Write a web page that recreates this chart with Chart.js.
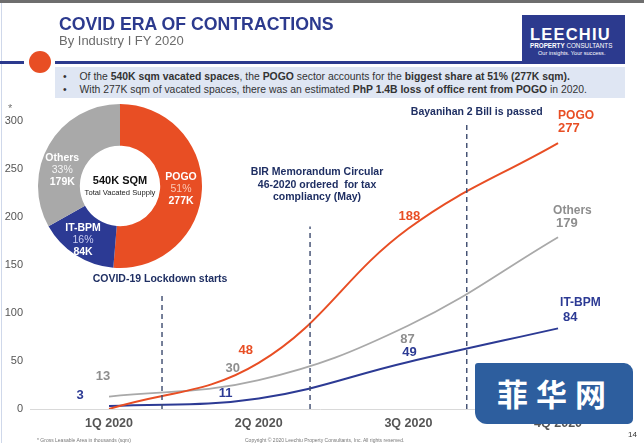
<!DOCTYPE html>
<html>
<head>
<meta charset="utf-8">
<script src="https://cdn.jsdelivr.net/npm/chart.js@4/dist/chart.umd.min.js"></script>
<style>
  body { margin: 0; background: #fff; font-family: "Liberation Sans", Arial, sans-serif; }
  #slide { position: relative; width: 644px; height: 443px; overflow: hidden; background: #fff; }
  #slide div { position: absolute; white-space: nowrap; }
  #lineChart { position: absolute; left: 0; top: 0; }
  #donut { position: absolute; left: 38px; top: 104px; }
  .topbar { left: 0; top: 0; width: 644px; height: 3px; background: #6e6e6e; }
  .leftbar { left: 1px; top: 3px; width: 1px; height: 440px; background: #cfd8ea; }
  .title { left: 59px; top: 16px; font-size: 17.7px; line-height: 17.7px; font-weight: bold; color: #2c3a8e; }
  .subtitle { left: 59px; top: 34px; font-size: 13px; line-height: 13px; color: #6b6b6b; }
  .stub { left: 0; top: 61px; width: 24px; height: 3px; background: #2c3a8e; }
  .dot { left: 29px; top: 51px; width: 22px; height: 22px; border-radius: 50%; background: #e84e24; }
  .rule { left: 55px; top: 61px; width: 570px; height: 3px; background: #2c3a8e; }
  .logo { left: 522px; top: 15px; width: 103px; height: 48px; background: #2c3a8e; }
  .logo .brand { left: 8px; top: 11px; font-size: 16.5px; line-height: 17px; font-weight: bold; color: #fff; letter-spacing: 1.2px; }
  .logo .sub { left: 8px; top: 27px; font-size: 6.3px; line-height: 7px; color: #fff; }
  .logo .tag { left: 16px; top: 35px; font-size: 5.6px; line-height: 7px; color: #fff; }
  .bullets { left: 55px; top: 67px; width: 570px; height: 31px; background: #dfe6f3; }
  .bullets div { left: 8px; font-size: 10.4px; line-height: 12px; color: #333; }
  .bullets span.b { margin-right: 10px; }
  .star { left: 8px; top: 102px; font-size: 11px; color: #777; }
  .center1 { left: 70px; top: 174px; width: 100px; text-align: center; font-size: 11px; line-height: 13px; font-weight: bold; color: #111; }
  .center2 { left: 70px; top: 188px; width: 100px; text-align: center; font-size: 7.6px; line-height: 9px; color: #222; }
  .stamp { left: 475px; top: 363px; width: 158px; height: 61px; background: #2d5e9e; border-radius: 3px 9px 5px 12px; }
  .stamp span { position: absolute; left: 22px; top: 12px; font-family: "Noto Sans CJK SC", sans-serif; font-weight: bold; font-size: 31px; line-height: 36px; color: #fff; letter-spacing: 8px; }
  .foot { top: 437px; font-size: 5px; line-height: 6px; color: #777; }
  .page { left: 628px; top: 430px; font-size: 8px; color: #333; }
</style>
</head>
<body>
<div id="slide">
  <canvas id="lineChart" width="644" height="443"></canvas>
  <div class="topbar"></div>
  <div class="leftbar"></div>
  <div class="title">COVID ERA OF CONTRACTIONS</div>
  <div class="subtitle">By Industry I FY 2020</div>
  <div class="stub"></div>
  <div class="rule"></div>
  <div class="dot"></div>
  <div class="logo">
    <div class="brand">LEECHIU</div>
    <div class="sub"><b>PROPERTY</b> CONSULTANTS</div>
    <div class="tag">Our insights. Your success.</div>
  </div>
  <div class="bullets">
    <div style="top:4px"><span class="b">•</span> Of the <b>540K sqm vacated spaces</b>, the <b>POGO</b> sector accounts for the <b>biggest share at 51% (277K sqm).</b></div>
    <div style="top:17px"><span class="b">•</span> With 277K sqm of vacated spaces, there was an estimated <b>PhP 1.4B loss of office rent from POGO</b> in 2020.</div>
  </div>
  <div class="star">*</div>
  <canvas id="donut" width="164" height="164"></canvas>
  <div class="center1">540K SQM</div>
  <div class="center2">Total Vacated Supply</div>
  <div class="stamp"><span>菲华网</span></div>
  <div class="foot" style="left:37px">* Gross Leasable Area in thousands (sqm)</div>
  <div class="foot" style="left:245px">Copyright © 2020 Leechiu Property Consultants, Inc. All rights reserved.</div>
  <div class="page">14</div>
</div>
<script>
// Área desocupada acumulada (mil sqm) por trimestre
const quarters = ['1Q 2020', '2Q 2020', '3Q 2020', '4Q 2020'];
const pogo = [0, 48, 188, 277];
const others = [13, 30, 87, 179];
const itBpm = [3, 11, 49, 84];
const seriesNames = ['POGO', 'Others', 'IT-BPM'];

// Eventos: posição no eixo dos trimestres e topo da linha tracejada
const eventLabels = [
  ['COVID-19 Lockdown starts'],
  ['BIR Memorandum Circular', '46-2020 ordered  for tax', 'compliancy (May)'],
  ['Bayanihan 2 Bill is passed'],
];
const eventAt = [1.354, 2.343, 3.39];
const eventTop = [122, 190, 296];

// Donut: participação no total (valores finais de cada série)
const shareNames = ['POGO', 'IT-BPM', 'Others'];
const shareValues = [pogo[3], itBpm[3], others[3]];

// Estilos
const lineColors = ['#e84e24', '#a9a9a9', '#2c3a94'];
const textColors = ['#e84e24', '#8e8e8e', '#2c3a94'];
const lineWidths = [2, 1.8, 2];
const labelOffsets = [
  [null, [-13, -12], [1, -12], null],
  [[-6, -20], [-26, -12], [-1, 14], null],
  [[-29, -11], [-33, -5], [1, -10], null],
];
const endOffsets = [[0, -27, 0, -15], [-5, -26, -2, -14], [2, -26, 5, -11]];
const eventOffsets = [[-2, -13], [7, -54], [10, -13]];

const seriesData = [pogo, others, itBpm];

const valueLabels = {
  id: 'valueLabels',
  afterDatasetsDraw(chart) {
    const ctx = chart.ctx;
    const xs = chart.scales.x, ys = chart.scales.y;
    ctx.save();
    ctx.textBaseline = 'middle';
    seriesData.forEach((vals, i) => {
      ctx.fillStyle = textColors[i];
      vals.forEach((v, j) => {
        const off = labelOffsets[i][j];
        if (!off) return;
        ctx.font = 'bold 13px "Liberation Sans", Arial, sans-serif';
        ctx.textAlign = 'center';
        ctx.fillText(String(v), xs.getPixelForValue(j + 1) + off[0], ys.getPixelForValue(v) + off[1]);
      });
      const last = vals.length - 1;
      const px = xs.getPixelForValue(last + 1), py = ys.getPixelForValue(vals[last]);
      const e = endOffsets[i];
      ctx.textAlign = 'left';
      ctx.font = 'bold 12px "Liberation Sans", Arial, sans-serif';
      ctx.fillText(seriesNames[i], px + e[0], py + e[1]);
      ctx.font = 'bold 13px "Liberation Sans", Arial, sans-serif';
      ctx.fillText(String(vals[last]), px + e[2], py + e[3]);
    });
    // Rótulos dos eventos
    ctx.fillStyle = '#1f2f63';
    ctx.textAlign = 'center';
    ctx.font = 'bold 10.5px "Liberation Sans", Arial, sans-serif';
    eventLabels.forEach((lines, k) => {
      const px = xs.getPixelForValue(eventAt[k]) + eventOffsets[k][0];
      const py = ys.getPixelForValue(eventTop[k]) + eventOffsets[k][1];
      lines.forEach((t, n) => ctx.fillText(t, px, py + n * 12.5));
    });
    ctx.restore();
  }
};

const lineSets = seriesData.map((vals, i) => ({
  label: seriesNames[i],
  data: vals.map((v, j) => ({ x: j + 1, y: v })),
  borderColor: lineColors[i],
  borderWidth: lineWidths[i],
  pointRadius: 0,
  tension: 0.4,
  fill: false,
}));
const eventSets = eventAt.map((x, k) => ({
  label: 'event' + k,
  data: [{ x: x, y: 0 }, { x: x, y: eventTop[k] }],
  borderColor: '#3c4a6e',
  borderWidth: 1.4,
  borderDash: [5, 4],
  pointRadius: 0,
  tension: 0,
}));

new Chart(document.getElementById('lineChart'), {
  type: 'line',
  data: { datasets: [...eventSets, ...lineSets] },
  options: {
    responsive: false,
    animation: false,
    layout: { padding: { left: 0, right: 34, top: 121, bottom: 0 } },
    scales: {
      x: {
        type: 'linear',
        min: 0.472,
        max: 4.347,
        afterBuildTicks: (s) => { s.ticks = quarters.map((q, i) => ({ value: i + 1 })); },
        afterFit: (s) => { s.height = 34; },
        grid: { display: false, drawTicks: false },
        border: { display: true, color: '#d9d9d9', width: 1 },
        ticks: {
          padding: 7,
          maxRotation: 0,
          color: '#555',
          font: { family: '"Liberation Sans", Arial, sans-serif', size: 12.5, weight: 'bold' },
          callback: (v) => quarters[v - 1],
        },
      },
      y: {
        min: 0,
        max: 300,
        afterFit: (s) => { s.width = 30; },
        grid: { display: false, drawTicks: false },
        border: { display: false },
        ticks: {
          stepSize: 50,
          padding: 7,
          color: '#555',
          font: { family: '"Liberation Sans", Arial, sans-serif', size: 11 },
        },
      },
    },
    plugins: { legend: { display: false }, tooltip: { enabled: false } },
  },
  plugins: [valueLabels],
});

// Donut
const shareColors = ['#e84e24', '#2c3a94', '#a9a9a9'];
const pctColors = ['#fbc9b6', '#c9cdf2', '#f4f4f4'];
const sliceOffsets = [[0, 1], [-4, 3], [-5, 15]];
const total = shareValues.reduce((a, b) => a + b, 0);

const donutLabels = {
  id: 'donutLabels',
  afterDatasetsDraw(chart) {
    const ctx = chart.ctx;
    const arcs = chart.getDatasetMeta(0).data;
    ctx.save();
    ctx.textAlign = 'center';
    ctx.textBaseline = 'middle';
    arcs.forEach((arc, i) => {
      const p = arc.tooltipPosition();
      const x = p.x + sliceOffsets[i][0], y = p.y + sliceOffsets[i][1];
      ctx.fillStyle = '#fff';
      ctx.font = 'bold 10.5px "Liberation Sans", Arial, sans-serif';
      ctx.fillText(shareNames[i], x, y - 12);
      ctx.fillStyle = pctColors[i];
      ctx.font = '10.5px "Liberation Sans", Arial, sans-serif';
      ctx.fillText(Math.round(shareValues[i] / total * 100) + '%', x, y);
      ctx.fillStyle = '#fff';
      ctx.font = 'bold 10.5px "Liberation Sans", Arial, sans-serif';
      ctx.fillText(shareValues[i] + 'K', x, y + 12);
    });
    ctx.restore();
  }
};

new Chart(document.getElementById('donut'), {
  type: 'doughnut',
  data: {
    labels: shareNames,
    datasets: [{ data: shareValues, backgroundColor: shareColors, borderWidth: 0 }],
  },
  options: {
    responsive: false,
    animation: false,
    cutout: '49%',
    layout: { padding: 0 },
    plugins: { legend: { display: false }, tooltip: { enabled: false } },
  },
  plugins: [donutLabels],
});
</script>
</body>
</html>
